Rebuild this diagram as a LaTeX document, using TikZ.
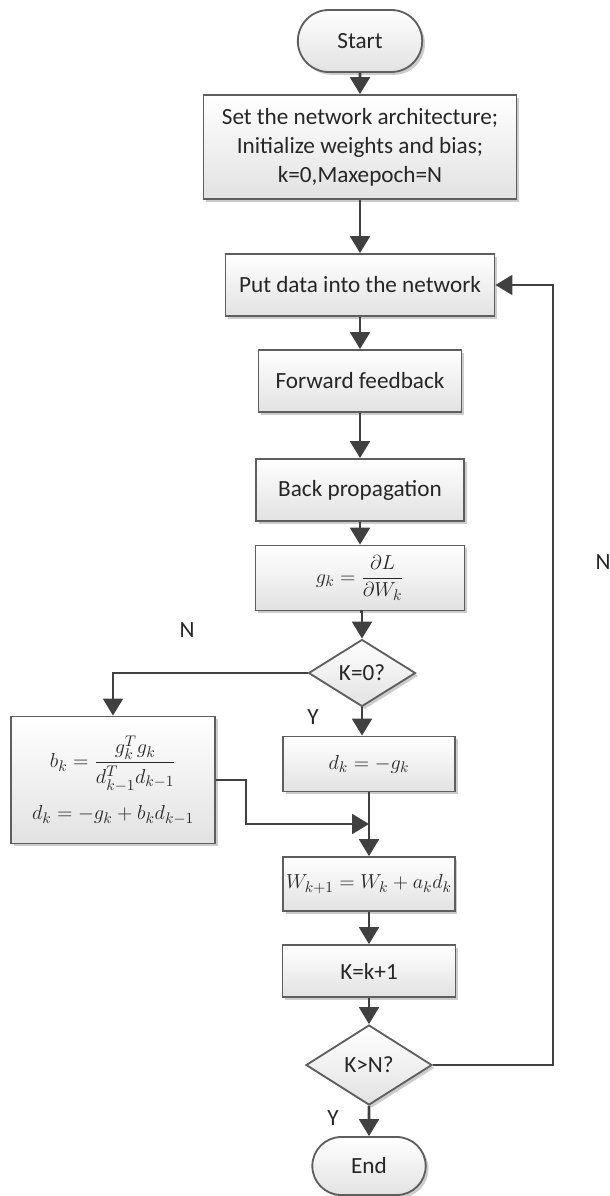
\documentclass[tikz,border=0pt]{standalone}
\usepackage{amsmath}
\usepackage{fontspec}
\setmainfont{Carlito}
\usetikzlibrary{positioning, arrows.meta, shapes.geometric, shapes.misc, shadows, calc}
\definecolor{LineG}{HTML}{404040}
\definecolor{EdgeG}{HTML}{5E5E5E}
\definecolor{TextG}{HTML}{262626}
\definecolor{FillT}{HTML}{FFFFFF}
\definecolor{FillB}{HTML}{E2E2E2}
\newcommand{\pxu}{0.025cm}
\tikzset{
  box/.style={draw=EdgeG, line width=1.3pt, top color=FillT, bottom color=FillB, align=center, text=TextG, font=\fontsize{16.5}{20.5}\selectfont, inner sep=2pt, drop shadow={shadow xshift=2pt, shadow yshift=-2pt, opacity=0.2, fill=black}},
  mbox/.style={box, font=\fontsize{15}{20}\selectfont},
  term/.style={box, rounded rectangle},
  dec/.style={box, diamond, inner sep=0pt},
  arr/.style={-{Triangle[length=12pt, width=14pt]}, line width=2pt, draw=LineG},
  line/.style={line width=2pt, draw=LineG},
  lbl/.style={font=\fontsize{16.5}{18}\selectfont, text=TextG}
}

\begin{document}
\begin{tikzpicture}[x=\pxu, y=-\pxu]
  \useasboundingbox (0,0) rectangle (610,1196);

  \node[term,minimum width=130*\pxu,minimum height=62*\pxu] (start) at (360,41) {Start};
  \node[box,minimum width=313*\pxu,minimum height=104*\pxu] (init) at (360,147) {Set the network architecture;\\Initialize weights and bias;\\k=0,Maxepoch=N};
  \node[box,minimum width=269*\pxu,minimum height=62*\pxu] (feed) at (360,285) {Put data into the network};
  \node[box,minimum width=203*\pxu,minimum height=62*\pxu] (fwd) at (360,381) {Forward feedback};
  \node[box,minimum width=208*\pxu,minimum height=62*\pxu] (back) at (360,490) {Back propagation};
  \node[mbox,minimum width=209*\pxu,minimum height=65*\pxu] (grad) at (360,578) {$g_k=\dfrac{\partial L}{\partial W_k}$};
  \node[dec,minimum width=107*\pxu,minimum height=67*\pxu] (kz) at (362,673) {K=0?};

  \node[mbox,minimum width=204*\pxu,minimum height=127*\pxu] (beta) at (113,780) {$b_k=\dfrac{g_k^T g_k}{d_{k-1}^T d_{k-1}}$\\[9pt]$d_k=-g_k+b_k d_{k-1}$};
  \node[mbox,minimum width=172*\pxu,minimum height=55*\pxu] (dk) at (369,764) {$d_k=-g_k$};
  \coordinate (mrg) at (369,824);
  \coordinate (jog) at (246,824);

  \node[mbox,minimum width=168*\pxu,minimum height=54*\pxu] (upd) at (369,884) {$W_{k+1}=W_k+a_k d_k$};
  \node[box,minimum width=173*\pxu,minimum height=52*\pxu] (inc) at (369,971) {K=k+1};
  \node[dec,minimum width=126*\pxu,minimum height=80*\pxu] (kn) at (369,1065) {K>N?};
  \node[term,minimum width=119*\pxu,minimum height=58*\pxu] (end) at (369,1166) {End};
  \coordinate (loop) at (553,1065);

  % branch labels
  \node[lbl] (nz) at (187,630) {N};
  \node[lbl] (yz) at (313,717) {Y};
  \node[lbl] (yn) at (333,1118) {Y};
  \node[lbl] (nn) at (603,562) {N};

  \draw[arr] (start) -- (init);
  \draw[arr] (init) -- (feed);
  \draw[arr] (feed) -- (fwd);
  \draw[arr] (fwd) -- (back);
  \draw[arr] (back) -- (grad);
  \draw[arr] (grad.south) -- (grad.south -| kz.north) -- (kz.north);
  \draw[arr] (kz.west) -| (beta.north);
  \draw[arr] (kz.south) -- (kz.south |- dk.north);
  \draw[line] (dk.south) -- (mrg);
  \draw[arr] (beta.east) -| (jog) -- (mrg);
  \draw[arr] (mrg) -- (upd);
  \draw[arr] (upd) -- (inc);
  \draw[arr] (inc) -- (kn);
  \draw[arr] (kn) -- (end);
  \draw[arr] (kn.east) -- (loop) |- (feed.east);
\end{tikzpicture}
\end{document}
